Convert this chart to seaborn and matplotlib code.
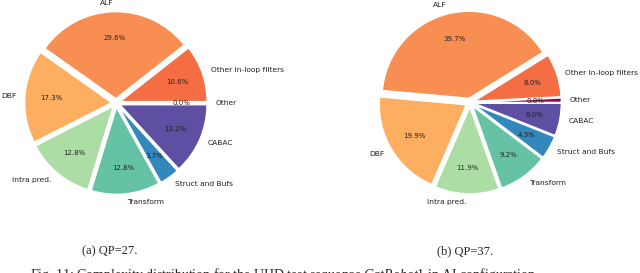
import matplotlib
matplotlib.use("Agg")
import matplotlib.pyplot as plt
import seaborn as sns

# Complexity shares (%), counter-clockwise from 0 degrees
labels = ["Other", "Other In-loop filters", "ALF", "DBF",
          "Intra pred.", "Transform", "Struct and Bufs", "CABAC"]
share_qp27 = [0.0, 10.6, 29.6, 17.3, 12.8, 12.8, 3.7, 13.2]
# unrounded estimates, shown as 0.8, 8.0, 39.7, 19.9, 11.9, 9.2, 4.3, 6.0
share_qp37 = [0.82, 8.03, 39.73, 19.93, 11.92, 9.22, 4.32, 6.03]
sub_captions = ["(a) QP=27.", "(b) QP=37."]
fig_caption = (r"Fig. 11: Complexity distribution for the UHD test sequence "
               r"$\mathit{CatRobot1}$ in AI configuration.")

colors = sns.color_palette(["#9e0142", "#f46d43", "#f88e52", "#fdae61",
                            "#abdda4", "#66c2a5", "#3288bd", "#5e4fa2"])

sns.set_style("white")
plt.rcParams["font.family"] = ["DejaVu Sans"]
plt.rcParams["mathtext.fontset"] = "custom"
plt.rcParams["mathtext.rm"] = "Liberation Serif"
plt.rcParams["mathtext.it"] = "Liberation Serif:italic"

W, H = 640, 273
fig = plt.figure(figsize=(6.4, 2.73), dpi=100)

unit = 87  # pixels per pie radius
half = 1.3 * unit
centers = [(116, 103), (470, 102.5)]
caption_x = [110, 465]


def draw_pie(data, center, cap_x, caption):
    cx, cy = center
    ax = fig.add_axes([(cx - half) / W, (H - cy - half) / H, 2 * half / W, 2 * half / H])
    wedges, texts, autotexts = ax.pie(data, labels=labels, colors=colors,
                                      explode=[0.05] * len(data),
                                      autopct="%1.1f%%", pctdistance=0.7,
                                      labeldistance=1.1, startangle=0,
                                      textprops={"fontsize": 5.4, "color": "#222222"})
    for t in autotexts:
        t.set_fontsize(5.0)
    ax.set_xlim(-1.3, 1.3)
    ax.set_ylim(-1.3, 1.3)
    ax.set_aspect("equal")
    fig.text(cap_x / W, (H - 251) / H, caption,
             family="Liberation Serif", fontsize=9, ha="center", va="center")
    return ax


for data, center, cx, cap in zip([share_qp27, share_qp37], centers, caption_x, sub_captions):
    draw_pie(data, center, cx, cap)

fig.text(30 / W, (H - 266) / H, fig_caption, family="Liberation Serif",
         fontsize=10, ha="left", va="top")

fig.savefig("out.png", dpi=100)
